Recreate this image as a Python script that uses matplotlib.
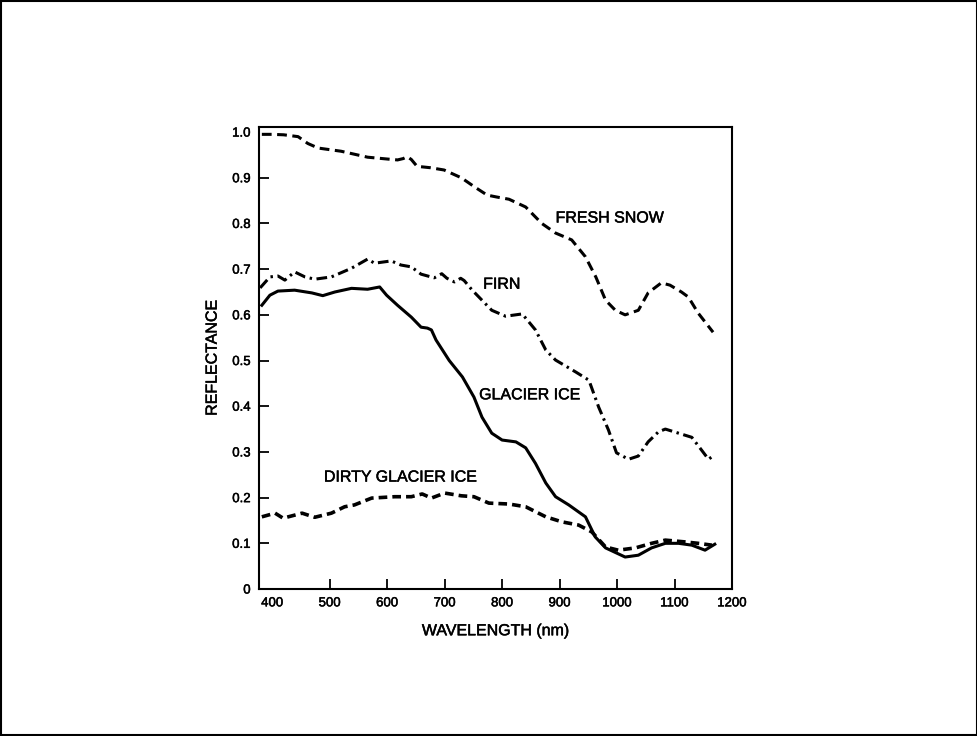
import matplotlib
matplotlib.use("Agg")
from matplotlib import pyplot as plt
from matplotlib.patches import Rectangle
from matplotlib import patheffects

plt.rcParams['font.family'] = ['Liberation Sans', 'DejaVu Sans']

# wavelength (nm) / reflectance
snow_x = [382, 400, 420, 445, 462, 480, 520, 566, 600, 618, 628, 635, 642, 652, 675, 699, 729,
          752, 774, 790, 812, 841, 869, 893, 921, 945, 963, 980, 997, 1014, 1037, 1054, 1077,
          1092, 1112, 1124, 1141, 1167]
snow_y = [0.995, 0.995, 0.994, 0.99, 0.975, 0.965, 0.958, 0.945, 0.941, 0.939, 0.942, 0.946,
          0.94, 0.925, 0.922, 0.917, 0.90, 0.88, 0.862, 0.858, 0.853, 0.836, 0.80, 0.779, 0.764,
          0.727, 0.683, 0.632, 0.61, 0.60, 0.61, 0.648, 0.67, 0.665, 0.65, 0.639, 0.604, 0.562]

firn_x = [379, 396, 410, 422, 439, 457, 474, 503, 538, 566, 578, 607, 624, 642, 659, 682, 695,
          704, 717, 728, 734, 748, 782, 806, 835, 858, 876, 893, 928, 951, 968, 985, 999, 1020,
          1037, 1054, 1072, 1084, 1107, 1130, 1147, 1159, 1167]
firn_y = [0.659, 0.683, 0.685, 0.676, 0.694, 0.683, 0.678, 0.683, 0.702, 0.722, 0.713, 0.718,
          0.709, 0.705, 0.689, 0.681, 0.69, 0.68, 0.672, 0.68, 0.675, 0.654, 0.61, 0.597, 0.602,
          0.567, 0.523, 0.501, 0.475, 0.457, 0.398, 0.348, 0.298, 0.284, 0.291, 0.322, 0.344,
          0.35, 0.341, 0.332, 0.304, 0.284, 0.291]

ice_x = [382, 396, 410, 439, 469, 488, 509, 538, 566, 587, 599, 618, 642, 659, 670, 677, 685,
         708, 731, 751, 765, 782, 800, 824, 841, 858, 876, 893, 916, 945, 962, 980, 1014, 1037,
         1060, 1084, 1107, 1130, 1153, 1170]
ice_y = [0.621, 0.643, 0.652, 0.654, 0.648, 0.642, 0.65, 0.658, 0.656, 0.661, 0.643, 0.621,
         0.595, 0.573, 0.571, 0.567, 0.545, 0.50, 0.464, 0.42, 0.376, 0.341, 0.326, 0.322,
         0.309, 0.275, 0.232, 0.202, 0.184, 0.158, 0.114, 0.09, 0.07, 0.074, 0.09, 0.10, 0.10,
         0.096, 0.085, 0.098]

dirty_x = [382, 405, 419, 452, 474, 503, 526, 543, 573, 613, 642, 661, 677, 700, 729, 751, 777,
           812, 841, 876, 904, 933, 956, 980, 1002, 1032, 1060, 1084, 1119, 1141, 1165]
dirty_y = [0.158, 0.166, 0.155, 0.166, 0.157, 0.166, 0.18, 0.184, 0.199, 0.202, 0.202, 0.208,
           0.199, 0.21, 0.204, 0.202, 0.188, 0.186, 0.18, 0.158, 0.147, 0.14, 0.125, 0.092,
           0.085, 0.09, 0.10, 0.107, 0.103, 0.10, 0.096]

x_ticks = [400, 500, 600, 700, 800, 900, 1000, 1100, 1200]
y_ticks = [0, 0.1, 0.2, 0.3, 0.4, 0.5, 0.6, 0.7, 0.8, 0.9, 1.0]
y_labels = ['0', '0.1', '0.2', '0.3', '0.4', '0.5', '0.6', '0.7', '0.8', '0.9', '1.0']

# slightly heavier strokes, like the printed original
heavy = [patheffects.withStroke(linewidth=0.35, foreground='black')]

fig = plt.figure(figsize=(9.78, 7.36), dpi=100)
ax = fig.add_axes([0.2648, 0.1997, 0.4837, 0.6277])

ax.plot(snow_x, snow_y, color='black', lw=2.2, linestyle=(0, (3.2, 1.8)))
ax.plot(firn_x, firn_y, color='black', lw=2.2, linestyle=(0, (3.5, 1.5, 0.8, 1.5)))
ax.plot(ice_x, ice_y, color='black', lw=2.2, linestyle='-')
ax.plot(dirty_x, dirty_y, color='black', lw=2.6, linestyle=(0, (2.4, 1.4)))

txt = dict(fontsize=11.5, color='black', va='center', ha='left', path_effects=heavy)
ax.text(893, 0.812, 'FRESH SNOW', **txt)
ax.text(767, 0.667, 'FIRN', **txt)
ax.text(760, 0.425, 'GLACIER ICE', **txt)
ax.text(490, 0.245, 'DIRTY GLACIER ICE', **txt)

ax.set_xlim(377, 1200)
ax.set_ylim(0, 1.011)
ax.set_xticks(x_ticks)
ax.set_yticks(y_ticks)
ax.set_yticklabels(y_labels)
ax.tick_params(direction='in', length=7, width=1.3, labelsize=9.5, pad=6)
for lab in ax.get_xticklabels() + ax.get_yticklabels():
    lab.set_path_effects(heavy)
# no tick marks at the axis ends
for tl in [ax.xaxis.get_major_ticks()[0], ax.xaxis.get_major_ticks()[-1],
           ax.yaxis.get_major_ticks()[0], ax.yaxis.get_major_ticks()[-1]]:
    tl.tick1line.set_visible(False)
    tl.tick2line.set_visible(False)
for s in ax.spines.values():
    s.set_linewidth(1.5)

ax.set_xlabel('WAVELENGTH (nm)', fontsize=11.5, labelpad=10, path_effects=heavy)
ax.set_ylabel('REFLECTANCE', fontsize=11.5, labelpad=9, path_effects=heavy)

fig.patches.append(Rectangle((0.001, 0.001), 0.998, 0.998, transform=fig.transFigure,
                             fill=False, edgecolor='black', lw=1.5))

fig.savefig('out.png', dpi=100)
